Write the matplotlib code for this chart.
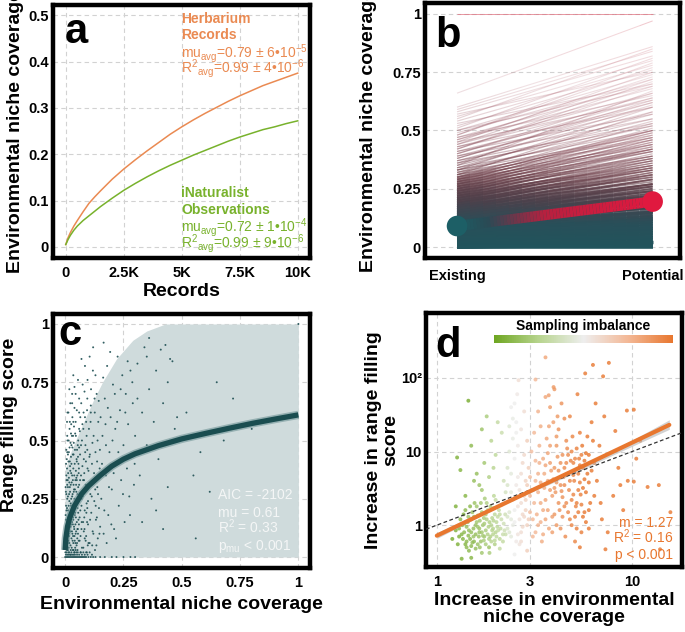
import numpy as np
import matplotlib
matplotlib.use("Agg")
import matplotlib.pyplot as plt
from matplotlib.collections import LineCollection
from matplotlib.colors import LinearSegmentedColormap

plt.rcParams['font.family'] = ['Liberation Sans', 'DejaVu Sans']
plt.rcParams['mathtext.fontset'] = 'custom'
plt.rcParams['mathtext.rm'] = 'Liberation Sans'
plt.rcParams['mathtext.it'] = 'Liberation Sans:italic'
plt.rcParams['mathtext.bf'] = 'Liberation Sans:bold'

# ---- panel a: accumulation curves
records = [0, 100, 200, 350, 500, 750, 1000, 1250, 1500, 2000, 2500, 3000, 3500, 4000, 4500, 5000,
           5500, 6000, 6500, 7000, 7500, 8000, 8500, 9000, 9500, 10000]
herb_cov = [0.005, 0.02, 0.031, 0.045, 0.057, 0.076, 0.094, 0.108, 0.121, 0.146, 0.168, 0.188, 0.207,
            0.225, 0.243, 0.259, 0.274, 0.288, 0.301, 0.314, 0.326, 0.337, 0.348, 0.357, 0.366, 0.375]
inat_cov = [0.005, 0.016, 0.025, 0.036, 0.045, 0.057, 0.067, 0.077, 0.087, 0.105, 0.122, 0.137, 0.151,
            0.164, 0.176, 0.187, 0.198, 0.208, 0.218, 0.228, 0.237, 0.245, 0.253, 0.259, 0.266, 0.272]

# ---- panel b: existing vs potential coverage per species
existing = [1.0, 0.66, 0.60, 0.59, 0.58, 0.56, 0.55, 0.54, 0.52, 0.51, 0.50, 0.49, 0.48, 0.47, 0.46, 0.45,
            0.44, 0.43, 0.42, 0.41, 0.40, 0.39, 0.38, 0.37, 0.36, 0.35, 0.35, 0.34, 0.33, 0.33, 0.32, 0.31,
            0.31, 0.30, 0.30, 0.29, 0.29, 0.28, 0.28, 0.27, 0.27, 0.26, 0.26, 0.25, 0.25, 0.24, 0.24, 0.23,
            0.23, 0.22, 0.22, 0.21, 0.21, 0.20, 0.20, 0.19, 0.19, 0.18, 0.18, 0.17, 0.17, 0.16, 0.16, 0.15,
            0.15, 0.145, 0.14, 0.14, 0.135, 0.13, 0.13, 0.125, 0.12, 0.12, 0.115, 0.11, 0.11, 0.105, 0.10,
            0.10, 0.095, 0.09, 0.09, 0.085, 0.08, 0.08, 0.075, 0.07, 0.07, 0.065, 0.06, 0.06, 0.055, 0.05,
            0.05, 0.045, 0.04, 0.04, 0.035, 0.03, 0.03, 0.025, 0.02, 0.02, 0.015, 0.01, 0.01, 0.005, 0.0, 0.0,
            0.34, 0.33, 0.32, 0.31, 0.30, 0.29, 0.28, 0.27, 0.26, 0.25, 0.24, 0.23, 0.22, 0.21, 0.20, 0.19,
            0.18, 0.17, 0.16, 0.15, 0.14, 0.13, 0.12, 0.11, 0.10, 0.09, 0.08, 0.07, 0.06, 0.05, 0.04, 0.03,
            0.02, 0.01, 0.0, 0.005, 0.015, 0.025, 0.035, 0.045, 0.055, 0.065, 0.075, 0.085, 0.095, 0.105,
            0.115, 0.125, 0.135, 0.145, 0.155, 0.165, 0.175, 0.185, 0.195, 0.205, 0.215, 0.225, 0.235, 0.245,
            0.255, 0.265, 0.275, 0.285, 0.295, 0.53, 0.50, 0.47, 0.45, 0.43, 0.41, 0.39, 0.37, 0.36, 0.44,
            0.42, 0.40, 0.38, 0.57, 0.48, 0.46]
potential = [1.0, 0.97, 0.86, 0.84, 0.82, 0.80, 0.85, 0.78, 0.76, 0.81, 0.74, 0.72, 0.79, 0.70, 0.68, 0.75,
             0.66, 0.64, 0.71, 0.62, 0.66, 0.60, 0.63, 0.58, 0.61, 0.55, 0.67, 0.57, 0.52, 0.60, 0.54, 0.50,
             0.58, 0.49, 0.53, 0.47, 0.51, 0.45, 0.50, 0.44, 0.48, 0.42, 0.46, 0.41, 0.45, 0.39, 0.43, 0.38,
             0.42, 0.36, 0.40, 0.35, 0.38, 0.33, 0.37, 0.32, 0.35, 0.30, 0.34, 0.29, 0.32, 0.27, 0.31, 0.26,
             0.29, 0.25, 0.24, 0.27, 0.23, 0.22, 0.25, 0.21, 0.20, 0.23, 0.19, 0.18, 0.21, 0.17, 0.16,
             0.19, 0.15, 0.14, 0.17, 0.13, 0.12, 0.15, 0.12, 0.11, 0.13, 0.10, 0.09, 0.12, 0.09, 0.08,
             0.10, 0.07, 0.06, 0.08, 0.06, 0.05, 0.07, 0.04, 0.03, 0.05, 0.03, 0.02, 0.04, 0.01, 0.01, 0.02,
             0.50, 0.48, 0.47, 0.46, 0.44, 0.43, 0.42, 0.41, 0.39, 0.38, 0.37, 0.35, 0.34, 0.33, 0.31, 0.30,
             0.28, 0.27, 0.26, 0.24, 0.22, 0.21, 0.19, 0.17, 0.15, 0.13, 0.11, 0.10, 0.08, 0.07, 0.05, 0.04,
             0.02, 0.01, 0.0, 0.02, 0.04, 0.06, 0.08, 0.09, 0.11, 0.12, 0.14, 0.15, 0.17, 0.19,
             0.20, 0.22, 0.24, 0.26, 0.27, 0.29, 0.31, 0.33, 0.34, 0.36, 0.37, 0.39, 0.41, 0.42,
             0.44, 0.46, 0.47, 0.49, 0.50, 0.70, 0.69, 0.65, 0.63, 0.60, 0.57, 0.55, 0.53, 0.52, 0.72,
             0.69, 0.64, 0.62, 0.75, 0.77, 0.73]
mean_existing = 0.09
mean_potential = 0.195

# ---- panel c: niche coverage vs range filling
c_points = [
    (0.0, 0), (0.005, 0), (0.01, 0), (0.015, 0), (0.02, 0), (0.025, 0), (0.03, 0), (0.035, 0), (0.04, 0),
    (0.045, 0), (0.05, 0), (0.055, 0), (0.06, 0), (0.065, 0), (0.07, 0), (0.075, 0), (0.08, 0), (0.085, 0),
    (0.09, 0), (0.1, 0), (0.11, 0), (0.12, 0), (0.13, 0), (0.15, 0), (0.17, 0), (0.2, 0), (0.22, 0),
    (0.25, 0), (0.28, 0), (0.3, 0),
    (0.002, 0.05), (0.004, 0.12), (0.006, 0.2), (0.008, 0.03), (0.003, 0.28), (0.01, 0.09), (0.012, 0.15),
    (0.005, 0.35), (0.015, 0.22), (0.018, 0.06), (0.02, 0.3), (0.007, 0.42), (0.022, 0.11), (0.025, 0.18),
    (0.009, 0.25), (0.028, 0.04), (0.03, 0.26), (0.011, 0.33), (0.033, 0.14), (0.035, 0.38), (0.013, 0.07),
    (0.038, 0.21), (0.04, 0.02), (0.016, 0.45), (0.042, 0.29), (0.045, 0.1), (0.019, 0.17), (0.048, 0.34),
    (0.05, 0.24), (0.021, 0.39), (0.052, 0.08), (0.055, 0.43), (0.024, 0.01), (0.057, 0.16), (0.06, 0.31),
    (0.027, 0.48), (0.003, 0.16), (0.006, 0.08), (0.009, 0.31), (0.014, 0.02), (0.017, 0.27), (0.023, 0.13),
    (0.026, 0.36), (0.029, 0.2), (0.032, 0.07), (0.036, 0.44), (0.039, 0.12), (0.043, 0.19), (0.046, 0.37),
    (0.049, 0.05), (0.053, 0.27), (0.056, 0.5), (0.059, 0.14), (0.004, 0.22), (0.008, 0.38), (0.012, 0.26),
    (0.016, 0.1), (0.02, 0.41), (0.024, 0.23), (0.028, 0.32), (0.031, 0.47), (0.034, 0.09), (0.037, 0.28),
    (0.041, 0.4), (0.044, 0.06), (0.047, 0.22), (0.051, 0.46), (0.054, 0.12), (0.058, 0.36), (0.001, 0.1),
    (0.002, 0.18), (0.005, 0.27), (0.007, 0.14), (0.01, 0.5), (0.013, 0.36), (0.015, 0.04), (0.018, 0.32),
    (0.021, 0.19), (0.025, 0.43), (0.027, 0.08), (0.03, 0.15), (0.033, 0.33), (0.036, 0.03), (0.04, 0.25),
    (0.043, 0.53), (0.046, 0.17), (0.05, 0.41), (0.053, 0.03), (0.057, 0.24), (0.06, 0.47), (0.019, 0.55),
    (0.023, 0.49), (0.012, 0.44), (0.034, 0.52), (0.038, 0.56), (0.045, 0.58), (0.031, 0.6), (0.026, 0.57),
    (0.005, 0.46), (0.009, 0.52),
    (0.001, 0.02), (0.002, 0.3), (0.003, 0.08), (0.004, 0.4), (0.005, 0.13), (0.006, 0.33), (0.007, 0.05),
    (0.008, 0.21), (0.009, 0.45), (0.01, 0.16), (0.011, 0.04), (0.012, 0.3), (0.013, 0.2), (0.014, 0.41),
    (0.015, 0.12), (0.016, 0.34), (0.017, 0.06), (0.018, 0.24), (0.019, 0.47), (0.02, 0.13), (0.021, 0.28),
    (0.022, 0.37), (0.023, 0.05), (0.024, 0.31), (0.025, 0.22), (0.026, 0.14), (0.027, 0.4), (0.028, 0.19),
    (0.029, 0.52), (0.03, 0.35), (0.031, 0.1), (0.032, 0.27), (0.033, 0.44), (0.034, 0.17), (0.035, 0.06),
    (0.036, 0.31), (0.037, 0.49), (0.038, 0.13), (0.039, 0.35), (0.04, 0.09), (0.041, 0.18), (0.042, 0.46),
    (0.043, 0.04), (0.044, 0.33), (0.045, 0.24), (0.046, 0.52), (0.047, 0.11), (0.048, 0.28), (0.049, 0.42),
    (0.05, 0.15), (0.051, 0.06), (0.052, 0.35), (0.053, 0.21), (0.054, 0.48), (0.055, 0.1), (0.056, 0.3),
    (0.057, 0.4), (0.058, 0.07), (0.059, 0.26), (0.06, 0.55), (0.062, 0.17), (0.064, 0.33), (0.066, 0.09),
    (0.068, 0.48), (0.07, 0.22), (0.072, 0.04), (0.074, 0.39), (0.076, 0.26), (0.078, 0.55), (0.08, 0.11),
    (0.082, 0.36), (0.084, 0.2), (0.086, 0.45), (0.088, 0.07), (0.09, 0.29), (0.092, 0.52), (0.094, 0.15),
    (0.096, 0.38), (0.098, 0.24), (0.1, 0.06),
    (0.003, 0.01), (0.006, 0.02), (0.009, 0.01), (0.012, 0.03), (0.015, 0.01), (0.018, 0.02), (0.021, 0.01),
    (0.024, 0.03), (0.027, 0.02), (0.03, 0.01), (0.033, 0.03), (0.036, 0.01), (0.039, 0.02), (0.042, 0.01),
    (0.045, 0.03), (0.048, 0.02), (0.051, 0.01), (0.054, 0.02), (0.06, 0.01), (0.066, 0.02), (0.072, 0.01),
    (0.078, 0.02), (0.084, 0.01), (0.09, 0.02), (0.096, 0.01), (0.105, 0.02), (0.115, 0.01),
    (0.004, 0.06), (0.007, 0.1), (0.011, 0.07), (0.014, 0.14), (0.017, 0.09), (0.02, 0.19), (0.023, 0.16),
    (0.026, 0.25), (0.029, 0.11), (0.032, 0.2), (0.035, 0.16), (0.038, 0.29), (0.041, 0.07), (0.044, 0.14),
    (0.047, 0.31), (0.05, 0.33), (0.053, 0.12), (0.056, 0.19), (0.059, 0.38), (0.065, 0.27), (0.071, 0.15),
    (0.077, 0.33), (0.083, 0.12), (0.089, 0.41), (0.095, 0.21), (0.008, 0.58), (0.014, 0.62), (0.022, 0.66),
    (0.03, 0.7), (0.04, 0.73), (0.05, 0.63), (0.06, 0.68), (0.018, 0.72), (0.035, 0.78),
    (0.01, 0.62), (0.02, 0.58), (0.03, 0.66), (0.045, 0.7), (0.055, 0.76), (0.065, 0.6), (0.075, 0.74),
    (0.085, 0.82), (0.095, 0.68), (0.105, 0.86), (0.12, 0.9), (0.13, 0.78), (0.07, 0.85), (0.04, 0.64),
    (0.025, 0.53), (0.015, 0.5), (0.035, 0.58), (0.06, 0.62), (0.09, 0.58), (0.11, 0.62),
    (0.062, 0.07), (0.065, 0.2), (0.068, 0.35), (0.07, 0.12), (0.072, 0.5), (0.075, 0.28), (0.078, 0.04),
    (0.08, 0.42), (0.082, 0.17), (0.085, 0.6), (0.088, 0.31), (0.09, 0.09), (0.092, 0.23), (0.095, 0.46),
    (0.098, 0.14), (0.1, 0.37), (0.102, 0.55), (0.105, 0.06), (0.108, 0.27), (0.11, 0.65), (0.112, 0.19),
    (0.115, 0.4), (0.118, 0.11), (0.12, 0.33), (0.122, 0.52), (0.125, 0.24), (0.128, 0.03), (0.13, 0.45),
    (0.132, 0.16), (0.135, 0.7), (0.138, 0.3), (0.14, 0.08), (0.142, 0.58), (0.145, 0.21), (0.148, 0.38),
    (0.15, 0.13), (0.064, 0.44), (0.067, 0.02), (0.071, 0.25), (0.074, 0.57), (0.077, 0.15), (0.081, 0.33),
    (0.084, 0.08), (0.087, 0.48), (0.091, 0.19), (0.094, 0.63), (0.097, 0.05), (0.101, 0.3), (0.104, 0.43),
    (0.107, 0.16), (0.111, 0.72), (0.114, 0.26), (0.117, 0.49), (0.121, 0.1), (0.124, 0.36), (0.127, 0.62),
    (0.131, 0.22), (0.134, 0.05), (0.137, 0.41), (0.141, 0.27), (0.144, 0.67), (0.147, 0.1), (0.069, 0.66),
    (0.083, 0.71), (0.096, 0.76), (0.109, 0.58), (0.119, 0.8), (0.126, 0.68), (0.139, 0.5), (0.143, 0.34),
    (0.063, 0.54), (0.079, 0.62), (0.093, 0.02), (0.106, 0.44), (0.116, 0.05), (0.129, 0.29), (0.136, 0.17),
    (0.149, 0.46),
    (0.155, 0.25), (0.16, 0.52), (0.165, 0.1), (0.17, 0.68), (0.175, 0.35), (0.18, 0.82), (0.185, 0.18),
    (0.19, 0.45), (0.195, 0.6), (0.2, 0.29), (0.205, 0.74), (0.21, 0.12), (0.215, 0.55), (0.22, 0.4),
    (0.225, 0.86), (0.23, 0.22), (0.235, 0.63), (0.24, 0.33), (0.245, 0.78), (0.25, 0.48), (0.255, 0.15),
    (0.26, 0.7), (0.265, 0.38), (0.27, 0.57), (0.275, 0.26), (0.28, 0.8), (0.285, 0.44), (0.29, 0.66),
    (0.295, 0.31), (0.3, 0.52), (0.158, 0.4), (0.163, 0.77), (0.168, 0.2), (0.173, 0.57), (0.178, 0.06),
    (0.183, 0.64), (0.188, 0.3), (0.193, 0.88), (0.198, 0.14), (0.203, 0.5), (0.208, 0.36), (0.213, 0.7),
    (0.218, 0.08), (0.223, 0.58), (0.228, 0.45), (0.238, 0.72), (0.248, 0.27), (0.258, 0.62), (0.268, 0.84),
    (0.278, 0.18), (0.288, 0.75), (0.298, 0.4), (0.165, 0.92), (0.152, 0.6), (0.175, 0.48),
    (0.31, 0.83), (0.32, 0.35), (0.33, 0.62), (0.34, 0.9), (0.35, 0.48), (0.36, 0.72), (0.37, 0.25),
    (0.38, 0.58), (0.39, 0.8), (0.4, 0.42), (0.41, 0.89), (0.42, 0.66), (0.43, 0.91), (0.44, 0.3),
    (0.45, 0.85), (0.46, 0.84), (0.47, 0.55), (0.33, 0.15), (0.36, 0.94), (0.39, 0.2), (0.42, 0.12),
    (0.48, 0.6), (0.31, 0.68), (0.35, 0.86), (0.44, 0.75),
    (0.52, 0.62), (0.55, 0.35), (0.58, 0.45), (0.62, 0.28), (0.65, 0.75), (0.68, 0.5), (0.72, 0.68),
    (0.56, 0.08), (0.8, 0.55), (1.0, 1.0),
]
c_fit_x = [0, 0.003, 0.01, 0.02, 0.04, 0.07, 0.1, 0.15, 0.2, 0.25, 0.3, 0.4, 0.5, 0.6, 0.7, 0.8, 0.9, 1.0]
c_fit_y = [0.03, 0.08, 0.13, 0.17, 0.22, 0.27, 0.305, 0.35, 0.39, 0.42, 0.443, 0.478, 0.507, 0.53, 0.552,
           0.573, 0.592, 0.61]
c_env_x = [0, 0.02, 0.045, 0.08, 0.12, 0.16, 0.22, 0.29, 0.35, 0.43, 1.0]
c_env_y = [0.37, 0.44, 0.5, 0.58, 0.67, 0.75, 0.85, 0.93, 0.97, 1.0, 1.0]

# ---- panel d: increases (x, y, sampling imbalance)
d_points = [
    (1.3, 0.7, -0.9), (1.35, 1.0, -0.8), (1.4, 0.55, -0.85), (1.45, 1.3, -0.7), (1.5, 0.8, -0.75),
    (1.55, 0.6, -0.8), (1.6, 1.1, -0.65), (1.65, 0.9, -0.7), (1.7, 1.5, -0.6), (1.75, 0.7, -0.65),
    (1.8, 1.2, -0.55), (1.85, 0.5, -0.7), (1.9, 1.0, -0.5), (1.95, 1.7, -0.45), (2.0, 0.8, -0.5),
    (2.05, 1.3, -0.4), (2.1, 0.65, -0.45), (2.15, 1.9, -0.35), (2.2, 1.05, -0.3), (2.25, 0.75, -0.35),
    (1.25, 0.85, -0.9), (1.32, 1.2, -0.85), (1.38, 0.8, -0.8), (1.42, 0.95, -0.75), (1.48, 0.65, -0.8),
    (1.52, 1.5, -0.7), (1.58, 0.75, -0.75), (1.62, 1.35, -0.6), (1.68, 0.6, -0.7), (1.72, 1.0, -0.6),
    (1.78, 0.85, -0.6), (1.82, 1.6, -0.5), (1.88, 0.7, -0.55), (1.92, 1.25, -0.5), (1.98, 0.55, -0.55),
    (2.02, 1.1, -0.45), (2.08, 1.6, -0.4), (2.12, 0.9, -0.4), (2.18, 0.6, -0.4), (2.24, 1.4, -0.3),
    (1.36, 0.65, -0.85), (1.44, 1.1, -0.7), (1.54, 0.9, -0.75), (1.64, 0.7, -0.7), (1.74, 1.25, -0.6),
    (1.84, 0.95, -0.55), (1.94, 0.75, -0.5), (2.04, 0.95, -0.45), (2.14, 1.2, -0.35), (2.22, 0.85, -0.3),
    (1.46, 0.45, -0.8), (1.66, 0.5, -0.7), (1.86, 0.42, -0.6), (1.56, 2.0, -0.7), (1.76, 2.3, -0.6),
    (1.96, 2.5, -0.45), (1.4, 1.6, -0.8), (1.6, 1.8, -0.65), (1.8, 2.0, -0.55), (2.0, 2.2, -0.4),
    (1.34, 0.35, -0.9), (1.2, 0.65, -0.95), (1.28, 0.55, -0.9), (1.5, 0.52, -0.8), (1.7, 0.42, -0.65),
    (2.1, 0.48, -0.4), (1.5, 0.36, -0.85),
    (1.3, 0.9, -0.85), (1.34, 0.75, -0.85), (1.38, 1.05, -0.8), (1.42, 0.6, -0.8), (1.46, 0.85, -0.75),
    (1.5, 1.2, -0.75), (1.54, 0.7, -0.7), (1.58, 1.0, -0.7), (1.62, 0.55, -0.7), (1.66, 1.15, -0.65),
    (1.7, 0.8, -0.65), (1.74, 0.62, -0.6), (1.78, 1.4, -0.6), (1.82, 0.75, -0.55), (1.86, 1.1, -0.55),
    (1.9, 0.6, -0.5), (1.94, 0.9, -0.5), (1.98, 1.4, -0.45), (2.02, 0.7, -0.45), (2.06, 0.85, -0.4),
    (1.45, 0.72, -0.8), (1.55, 1.3, -0.75), (1.65, 0.8, -0.7), (1.75, 1.05, -0.6), (1.85, 0.65, -0.55),
    (1.95, 1.15, -0.5), (1.52, 0.58, -0.75), (1.62, 0.95, -0.65), (1.72, 0.72, -0.6), (1.92, 0.85, -0.5),
    (1.37, 1.4, -0.85), (1.48, 1.8, -0.8), (1.68, 2.0, -0.65), (1.88, 1.8, -0.55), (2.1, 1.4, -0.4),
    (1.58, 0.48, -0.75), (1.78, 0.55, -0.6), (1.98, 0.62, -0.45), (2.18, 0.75, -0.35), (1.42, 0.5, -0.8),
    (1.27, 8.3, -0.9), (1.45, 49, -0.95), (1.5, 12, -0.8), (1.6, 5, -0.75), (1.7, 20, -0.7),
    (1.75, 7, -0.65), (1.8, 30, -0.6), (1.9, 14, -0.5), (1.55, 4, -0.75), (1.65, 3.5, -0.7),
    (1.32, 5.6, -0.85), (1.85, 4.5, -0.55), (2.0, 9, -0.45), (2.05, 25, -0.4), (1.95, 6, -0.5),
    (2.15, 18, -0.35), (1.4, 2.5, -0.85), (1.7, 3, -0.65), (2.2, 4, -0.3), (1.25, 1.8, -0.9),
    (2.3, 0.9, -0.2), (2.35, 1.5, -0.15), (2.4, 0.7, -0.1), (2.45, 2.2, -0.05), (2.5, 1.1, 0.0),
    (2.55, 0.6, 0.05), (2.6, 1.8, 0.1), (2.65, 3.0, 0.1), (2.7, 0.8, 0.15), (2.75, 1.4, 0.2),
    (2.8, 2.5, 0.2), (2.85, 4.0, 0.25), (2.9, 1.0, 0.25), (2.95, 6.0, 0.3), (2.3, 3.5, -0.2),
    (2.4, 5.0, -0.1), (2.5, 8.0, 0.0), (2.6, 12, 0.05), (2.7, 20, 0.1), (2.8, 35, 0.15),
    (2.45, 15, -0.05), (2.55, 25, 0.0), (2.35, 10, -0.15), (2.65, 0.55, 0.1), (2.9, 0.45, 0.3),
    (2.5, 0.4, 0.0), (2.75, 7, 0.2), (2.25, 2.8, -0.25), (2.85, 1.6, 0.25), (2.6, 4.5, 0.05),
    (2.4, 1.2, -0.1), (2.7, 2.0, 0.15), (2.95, 2.8, 0.3), (2.8, 9, 0.2), (2.3, 6, -0.2), (2.55, 18, 0.0),
    (2.62, 93, 0.15), (2.4, 40, 0.0),
    (2.3, 1.3, -0.2), (2.35, 0.8, -0.15), (2.4, 2.8, -0.1), (2.45, 1.0, -0.05), (2.5, 1.6, 0.0),
    (2.55, 3.5, 0.05), (2.6, 0.75, 0.1), (2.65, 1.2, 0.1), (2.7, 5.0, 0.15), (2.75, 0.95, 0.2),
    (2.8, 1.3, 0.2), (2.85, 2.2, 0.25), (2.9, 14, 0.3), (2.95, 1.2, 0.3), (2.45, 28, -0.05),
    (2.5, 45, 0.0), (2.58, 60, 0.05), (2.35, 22, -0.15), (2.7, 0.6, 0.15), (2.9, 3.5, 0.3),
    (3.0, 1.5, 0.45), (3.1, 3.0, 0.5), (3.2, 0.8, 0.5), (3.3, 5.0, 0.55), (3.4, 2.0, 0.6), (3.5, 8.0, 0.6),
    (3.6, 1.2, 0.65), (3.7, 4.0, 0.65), (3.8, 12, 0.7), (3.9, 2.5, 0.7), (4.0, 6.0, 0.75), (4.1, 1.0, 0.75),
    (4.2, 20, 0.8), (4.3, 3.5, 0.8), (4.4, 9.0, 0.8), (4.5, 1.8, 0.85), (4.6, 14, 0.85), (4.7, 5.0, 0.85),
    (4.8, 30, 0.9), (4.9, 2.2, 0.9), (5.0, 7.0, 0.9), (5.1, 1.3, 0.9), (5.2, 11, 0.95), (5.3, 3.0, 0.95),
    (5.4, 18, 0.95), (5.5, 0.8, 0.95), (5.6, 6.0, 1.0), (5.8, 9.5, 1.0), (6.0, 3.8, 1.0), (6.2, 25, 1.0),
    (3.05, 10, 0.45), (3.15, 18, 0.5), (3.25, 1.4, 0.55), (3.35, 7.0, 0.55), (3.45, 0.6, 0.6),
    (3.55, 3.2, 0.6), (3.65, 15, 0.65), (3.75, 0.9, 0.65), (3.85, 5.5, 0.7), (3.95, 25, 0.7),
    (4.05, 2.8, 0.75), (4.15, 8.5, 0.75), (4.25, 1.6, 0.8), (4.35, 45, 0.8), (4.45, 4.5, 0.8),
    (4.55, 0.7, 0.85), (4.65, 11, 0.85), (4.75, 3.0, 0.85), (4.85, 7.5, 0.9), (4.95, 16, 0.9),
    (5.05, 4.0, 0.9), (5.15, 1.8, 0.9), (5.25, 60, 0.95), (5.35, 8.0, 0.95), (5.45, 2.6, 0.95),
    (5.55, 12, 1.0), (5.7, 1.5, 1.0), (5.9, 5.0, 1.0), (6.1, 2.0, 1.0), (6.3, 14, 1.0),
    (3.0, 2.5, 0.45), (3.2, 4.0, 0.5), (3.4, 1.1, 0.55), (3.6, 6.5, 0.65), (3.8, 3.0, 0.7), (4.0, 1.4, 0.75),
    (4.2, 5.5, 0.8), (4.4, 2.4, 0.8), (4.6, 7.0, 0.85), (4.8, 1.2, 0.9), (5.0, 4.8, 0.9), (5.2, 2.0, 0.95),
    (5.4, 6.5, 0.95), (5.6, 3.2, 1.0), (5.8, 1.1, 1.0), (6.0, 9.0, 1.0), (3.1, 0.7, 0.5), (3.3, 2.8, 0.55),
    (3.5, 1.6, 0.6), (3.7, 9.5, 0.65), (3.9, 1.3, 0.7), (4.1, 3.8, 0.75), (4.3, 0.9, 0.8), (4.5, 6.0, 0.85),
    (4.7, 1.5, 0.85), (4.9, 10, 0.9), (5.1, 0.6, 0.9), (5.3, 5.0, 0.95), (5.5, 1.9, 0.95), (5.7, 4.2, 1.0),
    (3.0, 4.5, 0.45), (3.1, 1.2, 0.5), (3.2, 7.5, 0.5), (3.3, 1.0, 0.55), (3.4, 3.8, 0.6), (3.5, 0.75, 0.6),
    (3.6, 2.2, 0.65), (3.7, 1.6, 0.65), (3.8, 7.0, 0.7), (3.9, 0.8, 0.7), (4.0, 3.2, 0.75), (4.1, 12, 0.75),
    (4.2, 2.0, 0.8), (4.3, 7.0, 0.8), (4.4, 1.3, 0.8), (4.5, 3.5, 0.85), (4.6, 2.0, 0.85), (4.7, 9.0, 0.85),
    (4.8, 4.0, 0.9), (4.9, 1.0, 0.9), (5.0, 2.6, 0.9), (5.1, 8.0, 0.9), (5.2, 0.9, 0.95), (5.3, 1.5, 0.95),
    (5.4, 3.8, 0.95), (5.5, 9.0, 0.95), (5.6, 1.3, 1.0), (5.7, 7.5, 1.0), (5.8, 2.8, 1.0), (5.9, 16, 1.0),
    (6.0, 1.6, 1.0), (6.2, 5.5, 1.0), (6.4, 2.5, 1.0), (3.15, 2.0, 0.5), (3.35, 12, 0.55), (3.55, 5.0, 0.6),
    (3.75, 22, 0.65), (3.95, 4.2, 0.7), (4.15, 30, 0.75), (4.35, 2.9, 0.8),
    (3.3, 35, 0.55), (3.6, 55, 0.65), (4.0, 70, 0.75), (3.4, 22, 0.6), (3.2, 95, 0.5), (4.5, 28, 0.85),
    (3.8, 40, 0.7), (4.1, 16, 0.75), (3.6, 190, 0.65), (3.96, 75, 0.75), (3.74, 58, 0.7),
    (7.0, 1.2, 1.0), (7.5, 0.8, 1.0), (8.0, 2.5, 1.0), (8.5, 6, 1.0), (9.0, 1.6, 1.0), (9.5, 4, 1.0),
    (10.5, 8, 1.0), (12, 3.3, 1.0), (13.7, 3.5, 1.0), (13.9, 0.47, 1.0), (15.7, 1.5, 1.0), (11, 14, 1.0),
    (8.2, 19, 1.0), (9.4, 36, 1.0), (10.2, 37, 1.0), (7.6, 160, 1.0), (6.3, 150, 1.0), (5.75, 115, 1.0),
    (7.1, 105, 1.0), (6.5, 45, 1.0), (7.2, 30, 1.0), (6.8, 12, 1.0), (6.0, 0.9, 1.0), (6.6, 4.0, 1.0),
    (7.3, 0.47, 1.0), (5.4, 0.5, 1.0), (6.4, 7, 1.0), (6.9, 2.0, 1.0), (8.7, 3.5, 1.0), (10.2, 3.9, 1.0),
]
d_fit_x = [1.0, 15.5]
d_fit_y = [0.72, 23.0]
d_band_x = [1.0, 2.0, 3.0, 5.0, 8.0, 15.5]
d_band_lo = [0.66, 1.72, 2.75, 5.0, 9.0, 20.0]
d_band_hi = [0.79, 1.86, 2.95, 5.5, 10.3, 27.0]

ORANGE = '#EA8A52'
GREEN = '#78B22C'
TEAL = '#1E4F53'


def style_axes(ax, xpad=6, ypad=3):
    for s in ax.spines.values():
        s.set_linewidth(3.2)
        s.set_color('black')
    ax.tick_params(length=0, labelsize=10.5, which='both')
    ax.tick_params(axis='x', pad=xpad)
    ax.tick_params(axis='y', pad=ypad)
    ax.grid(True, color='#d2d2d2', ls=(0, (4, 3)), lw=0.8)
    ax.set_axisbelow(True)


def bold_ticks(ax):
    for lab in ax.get_xticklabels() + ax.get_yticklabels():
        lab.set_fontweight('bold')


fig = plt.figure(figsize=(6.85, 6.32), dpi=100)
ax_a = fig.add_axes([0.0774, 0.5918, 0.3752, 0.4003])
ax_b = fig.add_axes([0.6204, 0.5918, 0.3723, 0.4035])
ax_c = fig.add_axes([0.0774, 0.1013, 0.3752, 0.4019])
ax_d = fig.add_axes([0.6219, 0.1028, 0.3737, 0.4019])

# ---------------- a
ax_a.plot(records, herb_cov, color=ORANGE, lw=1.1)
ax_a.plot(records, inat_cov, color=GREEN, lw=1.1)
ax_a.set_xlim(-550, 10530)
ax_a.set_ylim(-0.024, 0.522)
ax_a.set_xticks([0, 2500, 5000, 7500, 10000], ['0', '2.5K', '5K', '7.5K', '10K'])
ax_a.set_yticks([0, 0.1, 0.2, 0.3, 0.4, 0.5], ['0', '0.1', '0.2', '0.3', '0.4', '0.5'])
style_axes(ax_a)
bold_ticks(ax_a)
ax_a.set_xlabel('Records', fontsize=14, fontweight='bold', labelpad=2)
ax_a.set_ylabel('Environmental niche coverage', fontsize=14, fontweight='bold', labelpad=3)
ax_a.text(0.047, 0.85, 'a', transform=ax_a.transAxes, fontsize=30, fontweight='bold', va='baseline')
herb_lines = [('Herbarium', 'bold'), ('Records', 'bold'),
              (r'mu$_{\mathrm{avg}}$=0.79 ± 6•10$^{\mathrm{-5}}$', 'normal'),
              (r'R$^{\mathrm{2}}$$_{\mathrm{avg}}$=0.99 ± 4•10$^{\mathrm{-6}}$', 'normal')]
for (txt, w), yy in zip(herb_lines, [0.929, 0.866, 0.794, 0.731]):
    ax_a.text(0.498, yy, txt, transform=ax_a.transAxes, fontsize=10, fontweight=w, color=ORANGE, va='baseline')
inat_lines = [('iNaturalist', 'bold'), ('Observations', 'bold'),
              (r'mu$_{\mathrm{avg}}$=0.72 ± 1•10$^{\mathrm{-4}}$', 'normal'),
              (r'R$^{\mathrm{2}}$$_{\mathrm{avg}}$=0.99 ± 9•10$^{\mathrm{-6}}$', 'normal')]
for (txt, w), yy in zip(inat_lines, [0.241, 0.174, 0.103, 0.040]):
    ax_a.text(0.498, yy, txt, transform=ax_a.transAxes, fontsize=10, fontweight=w, color=GREEN, va='baseline')

# ---------------- b
line_cmap = LinearSegmentedColormap.from_list('bl', [
    (0.0, (0.13, 0.33, 0.36, 1.0)),
    (0.1, (0.16, 0.31, 0.35, 0.95)),
    (0.2, (0.30, 0.25, 0.29, 0.75)),
    (0.3, (0.42, 0.24, 0.28, 0.5)),
    (0.45, (0.55, 0.30, 0.35, 0.32)),
    (0.7, (0.72, 0.42, 0.47, 0.2)),
    (0.95, (0.85, 0.45, 0.5, 0.3)),
    (1.0, (0.88, 0.42, 0.48, 0.7))])
segs, vals = [], []
t = np.linspace(0, 1, 16)
for e, p in zip(existing, potential):
    xs = 1 + t
    ys = e + (p - e) * t
    for i in range(len(t) - 1):
        segs.append([(xs[i], ys[i]), (xs[i + 1], ys[i + 1])])
        vals.append(0.5 * (ys[i] + ys[i + 1]))
vals = np.array(vals)
lc = LineCollection(segs, cmap=line_cmap, linewidths=np.interp(vals, [0, 0.15, 0.35, 1], [2.6, 1.9, 0.9, 0.7]))
lc.set_array(vals)
lc.set_clim(0, 1)
ax_b.add_collection(lc)

mean_cmap = LinearSegmentedColormap.from_list('ml', [(0, '#1D5C63'), (0.15, '#2A4A55'), (0.45, '#B8203F'), (1, '#E0193F')])
tm = np.linspace(0, 1, 60)
mx = 1 + tm
my = mean_existing + (mean_potential - mean_existing) * tm
mseg = [[(mx[i], my[i]), (mx[i + 1], my[i + 1])] for i in range(len(tm) - 1)]
mlc = LineCollection(mseg, cmap=mean_cmap, linewidths=7.5, capstyle='butt')
mlc.set_array(tm[:-1])
ax_b.add_collection(mlc)
ax_b.scatter([1], [mean_existing], s=220, color='#1D5F66', zorder=5, edgecolors='none')
ax_b.scatter([2], [mean_potential], s=220, color='#E0193F', zorder=5, edgecolors='none')
ax_b.set_xlim(0.836, 2.14)
ax_b.set_ylim(-0.047, 1.047)
ax_b.set_xticks([1, 2], ['Existing', 'Potential'])
ax_b.set_yticks([0, 0.25, 0.5, 0.75, 1], ['0', '0.25', '0.5', '0.75', '1'])
style_axes(ax_b, xpad=8)
ax_b.grid(False, axis='x')
bold_ticks(ax_b)
ax_b.set_ylabel('Environmental niche coverage', fontsize=14, fontweight='bold', labelpad=11)
ax_b.text(0.04, 0.827, 'b', transform=ax_b.transAxes, fontsize=30, fontweight='bold', va='baseline')

# ---------------- c
ax_c.fill_between(c_env_x, 0, c_env_y, color='#CFDBDC', lw=0, zorder=1)
cx = [p[0] for p in c_points]
cy = [p[1] for p in c_points]
ax_c.scatter(cx, cy, s=2.0, color=TEAL, edgecolors='none', alpha=0.9, zorder=2)
ax_c.plot(c_fit_x, c_fit_y, color='#6F9496', lw=6, alpha=0.6, zorder=3, solid_capstyle='butt')
ax_c.plot(c_fit_x, c_fit_y, color='#1A4D50', lw=3.8, zorder=4, solid_capstyle='butt')
ax_c.set_xlim(-0.052, 1.05)
ax_c.set_ylim(-0.047, 1.043)
ticks = [0, 0.25, 0.5, 0.75, 1]
tl = ['0', '0.25', '0.5', '0.75', '1']
ax_c.set_xticks(ticks, tl)
ax_c.set_yticks(ticks, tl)
style_axes(ax_c)
bold_ticks(ax_c)
ax_c.set_xlabel('Environmental niche coverage', fontsize=14, fontweight='bold', labelpad=4)
ax_c.set_ylabel('Range filling score', fontsize=14, fontweight='bold')
ax_c.yaxis.set_label_coords(-0.135, 0.563)
ax_c.text(0.02, 0.878, 'c', transform=ax_c.transAxes, fontsize=30, fontweight='bold', va='baseline')
c_stats = ['AIC = -2102', 'mu = 0.61', r'R$^{\mathrm{2}}$ = 0.33', r'p$_{\mathrm{mu}}$ < 0.001']
for txt, yy in zip(c_stats, [0.272, 0.201, 0.138, 0.071]):
    ax_c.text(0.642, yy, txt, transform=ax_c.transAxes, fontsize=10, color='#F4F6F6', va='baseline', zorder=6)

# ---------------- d
imb_cmap = LinearSegmentedColormap.from_list('imb', ['#6EA621', '#B7D48E', '#EEEEEE', '#F3B896', '#E8772F'])
dx = [p[0] for p in d_points]
dy = [p[1] for p in d_points]
dc = [p[2] for p in d_points]
sc = ax_d.scatter(dx, dy, c=dc, cmap=imb_cmap, vmin=-1, vmax=1, s=8, edgecolors='none', alpha=0.8, zorder=2)
ax_d.set_xscale('log')
ax_d.set_yscale('log')
ax_d.fill_between(d_band_x, d_band_lo, d_band_hi, color='#B5B5B5', alpha=0.6, lw=0, zorder=3)
ax_d.plot(d_fit_x, d_fit_y, color='#E8772F', lw=3, zorder=4, solid_capstyle='round')
ax_d.axline((1, 1), (10, 10), color='#333333', lw=0.9, ls=(0, (3, 2)), zorder=3)
ax_d.set_xlim(0.88, 18.0)
ax_d.set_ylim(0.27, 760)
ax_d.set_xticks([1, 3, 10], ['1', '3', '10'])
ax_d.set_yticks([1, 10, 100], ['1', '10', '10²'])
ax_d.minorticks_off()
style_axes(ax_d)
bold_ticks(ax_d)
ax_d.set_xlabel('Increase in environmental\nniche coverage', fontsize=14, fontweight='bold', labelpad=2, linespacing=1.0)
ax_d.set_ylabel('Increase in range filling\nscore', fontsize=14, fontweight='bold', labelpad=1, linespacing=1.0)
ax_d.text(0.035, 0.827, 'd', transform=ax_d.transAxes, fontsize=30, fontweight='bold', va='baseline')
for txt, yy in zip(['m = 1.27', r'R$^{\mathrm{2}}$ = 0.16', 'p < 0.001'], [0.157, 0.094, 0.031]):
    ax_d.text(0.965, yy, txt, transform=ax_d.transAxes, fontsize=10, color='#E8772F', ha='right', va='baseline')
cax = ax_d.inset_axes([0.266, 0.882, 0.699, 0.031])
cb = fig.colorbar(sc, cax=cax, orientation='horizontal')
cb.outline.set_visible(False)
cb.set_ticks([])
cb.solids.set_alpha(1)
ax_d.text(0.613, 0.949, 'Sampling imbalance', transform=ax_d.transAxes, fontsize=10, fontweight='bold',
          ha='center', va='center')

fig.savefig('out.png', dpi=100)
